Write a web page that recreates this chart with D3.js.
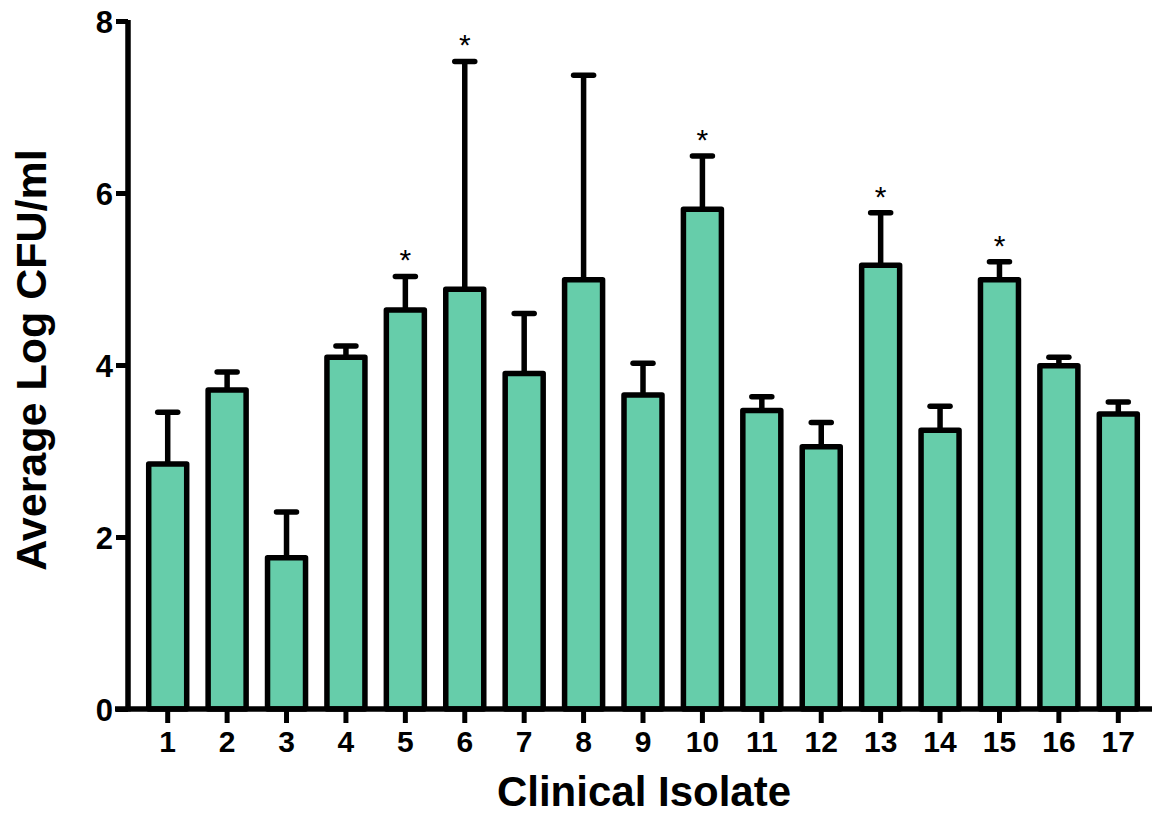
<!DOCTYPE html>
<html lang="en">
<head>
  <meta charset="UTF-8" />
  <title>Average Log CFU/ml by Clinical Isolate</title>
  <script src="https://d3js.org/d3.v7.min.js"></script>
  <style>
    body { margin: 0; background: #fff; }
    svg { display: block; }
    text { font-family: "Liberation Sans", Arial, sans-serif; }
  </style>
</head>
<body>
  <svg width="1155" height="816"></svg>
  <script>
    // values
    const isolates = ["1","2","3","4","5","6","7","8","9","10","11","12","13","14","15","16","17"];
    const means    = [2.85, 3.71, 1.76, 4.09, 4.64, 4.88, 3.90, 4.99, 3.65, 5.81, 3.47, 3.05, 5.16, 3.24, 4.99, 3.99, 3.43];
    const errTops  = [3.45, 3.92, 2.29, 4.22, 5.03, 7.53, 4.60, 7.37, 4.02, 6.43, 3.63, 3.33, 5.77, 3.52, 5.20, 4.09, 3.57];
    const significant = ["5", "6", "10", "13", "15"];
    const yTicks = [0, 2, 4, 6, 8];

    const svg = d3.select("svg");

    const x = d3.scaleBand()
      .domain(isolates)
      .range([138, 1148])
      .paddingInner(0.3)
      .paddingOuter(0.15);

    const y = d3.scaleLinear()
      .domain([0, 8])
      .range([709, 21]);

    const data = isolates.map((d, i) => ({ id: d, mean: means[i], top: errTops[i] }));

    // error bars (behind bars)
    const err = svg.append("g")
      .attr("stroke", "#000")
      .attr("stroke-width", 5.5)
      .attr("stroke-linecap", "round");

    err.selectAll("line.stem")
      .data(data)
      .enter()
      .append("line")
      .attr("class", "stem")
      .attr("x1", d => x(d.id) + x.bandwidth() / 2)
      .attr("x2", d => x(d.id) + x.bandwidth() / 2)
      .attr("y1", d => y(d.mean))
      .attr("y2", d => y(d.top))
      .attr("stroke-linecap", "butt");

    err.selectAll("line.cap")
      .data(data)
      .enter()
      .append("line")
      .attr("class", "cap")
      .attr("x1", d => x(d.id) + x.bandwidth() / 2 - 10)
      .attr("x2", d => x(d.id) + x.bandwidth() / 2 + 10)
      .attr("y1", d => y(d.top))
      .attr("y2", d => y(d.top));

    // bars
    svg.selectAll("rect.bar")
      .data(data)
      .enter()
      .append("rect")
      .attr("class", "bar")
      .attr("x", d => x(d.id) + x.bandwidth() / 2 - 19)
      .attr("width", 38)
      .attr("y", d => y(d.mean))
      .attr("height", d => y(0) - y(d.mean))
      .attr("fill", "#66cdaa")
      .attr("stroke", "#000")
      .attr("stroke-width", 5.5)
      .attr("stroke-linejoin", "round");

    // significance stars
    svg.selectAll("text.star")
      .data(data.filter(d => significant.includes(d.id)))
      .enter()
      .append("text")
      .attr("class", "star")
      .attr("x", d => x(d.id) + x.bandwidth() / 2)
      .attr("y", d => y(d.top) - 6)
      .attr("text-anchor", "middle")
      .attr("font-size", 30)
      .text("*");

    // y axis
    const yAxis = svg.append("g")
      .attr("transform", "translate(128,0)")
      .call(d3.axisLeft(y).tickValues(yTicks).tickSize(12).tickPadding(3).tickSizeOuter(0));
    yAxis.select(".domain").attr("stroke-width", 5.5).attr("d", `M0,${y(8) - 1}V${y(0) + 2.5}`);
    yAxis.selectAll(".tick line").attr("stroke-width", 5);
    yAxis.selectAll(".tick text")
      .attr("font-size", 31)
      .attr("font-weight", "bold")
      .attr("fill", "#000")
      .attr("dy", "0.36em")
      .style("font-family", "'Liberation Sans', Arial, sans-serif");

    // x axis
    const xAxis = svg.append("g")
      .attr("transform", `translate(0,${y(0)})`)
      .call(d3.axisBottom(x).tickSize(14).tickPadding(8).tickSizeOuter(0));
    xAxis.select(".domain").attr("stroke-width", 5.5).attr("d", "M115,0H1152");
    xAxis.selectAll(".tick line").attr("stroke-width", 5);
    xAxis.selectAll(".tick text")
      .attr("font-size", 30)
      .attr("font-weight", "bold")
      .attr("fill", "#000")
      .style("font-family", "'Liberation Sans', Arial, sans-serif");

    // axis titles
    svg.append("text")
      .attr("x", 644)
      .attr("y", 806)
      .attr("text-anchor", "middle")
      .attr("font-size", 42)
      .attr("font-weight", "bold")
      .text("Clinical Isolate");

    svg.append("text")
      .attr("transform", "translate(46,360) rotate(-90)")
      .attr("text-anchor", "middle")
      .attr("font-size", 43)
      .attr("font-weight", "bold")
      .text("Average Log CFU/ml");
  </script>
</body>
</html>
